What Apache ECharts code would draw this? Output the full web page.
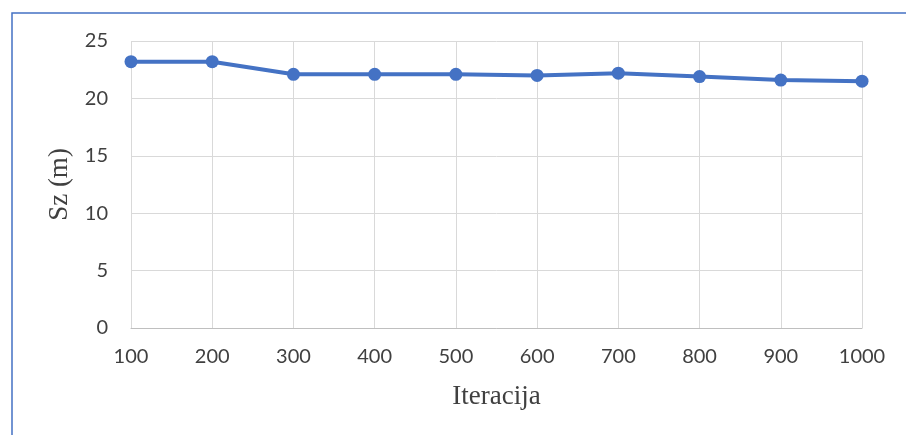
<!DOCTYPE html>
<html>
<head>
<meta charset="utf-8">
<script src="https://cdn.jsdelivr.net/npm/echarts@6/dist/echarts.min.js"></script>
<style>
  html, body { margin: 0; padding: 0; background: #fff; }
  #chart { width: 906px; height: 435px; }
</style>
</head>
<body>
<div id="chart"></div>
<script>
// iteration counts on the x axis
var iterations = ['100', '200', '300', '400', '500', '600', '700', '800', '900', '1000'];
// Sz values (m)
var szValues = [23.2, 23.2, 22.1, 22.1, 22.1, 22.0, 22.2, 21.9, 21.6, 21.5];
var yTicks = [0, 5, 10, 15, 20, 25];

var chart = echarts.init(document.getElementById('chart'));

var labelStyle = {
  color: '#404040',
  fontSize: 20,
  fontFamily: 'Lato'
};

chart.setOption({
  animation: false,
  graphic: [{
    type: 'rect',
    shape: { x: 12, y: 13, width: 1000, height: 1000 },
    style: { fill: 'none', stroke: '#4472C4', lineWidth: 1.5 },
    silent: true
  }],
  grid: {
    left: 131,
    right: 44,
    top: 41,
    bottom: 107
  },
  xAxis: {
    type: 'category',
    data: iterations,
    boundaryGap: false,
    name: 'Iteracija',
    nameLocation: 'middle',
    nameGap: 55,
    nameTextStyle: { fontFamily: 'Liberation Serif', fontSize: 27, color: '#404040' },
    axisLine: { lineStyle: { color: '#bfbfbf', width: 1 } },
    axisTick: { show: false },
    axisLabel: Object.assign({ margin: 19 }, labelStyle),
    splitLine: { show: true, lineStyle: { color: '#d9d9d9', width: 1 } }
  },
  yAxis: {
    type: 'value',
    min: yTicks[0],
    max: yTicks[yTicks.length - 1],
    interval: 5,
    name: 'Sz (m)',
    nameLocation: 'middle',
    nameRotate: 90,
    nameGap: 53,
    nameTextStyle: { fontFamily: 'Liberation Serif', fontSize: 27, color: '#404040' },
    axisLine: { show: false },
    axisTick: { show: false },
    axisLabel: Object.assign({ margin: 23 }, labelStyle),
    splitLine: { lineStyle: { color: '#d9d9d9', width: 1 } }
  },
  series: [{
    type: 'line',
    data: szValues,
    symbol: 'circle',
    symbolSize: 13,
    lineStyle: { color: '#4472C4', width: 4 },
    itemStyle: { color: '#4472C4' }
  }]
});
</script>
</body>
</html>
